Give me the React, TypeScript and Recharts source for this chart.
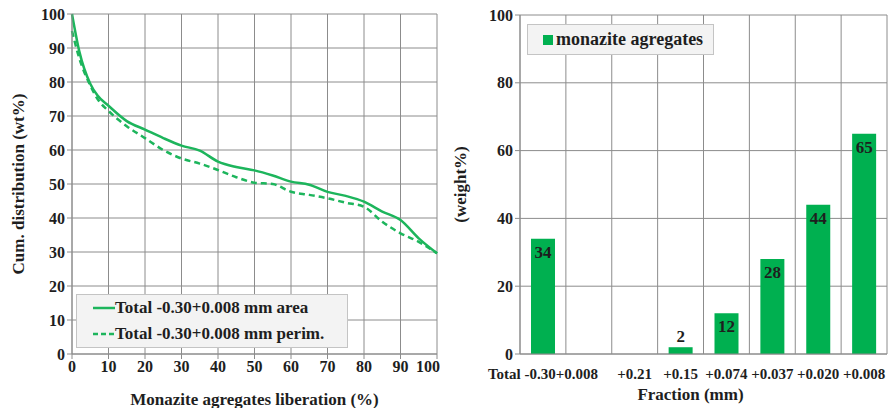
import React from "react"
import {
  LineChart,
  Line,
  BarChart,
  Bar,
  XAxis,
  YAxis,
  CartesianGrid,
  Legend,
  LabelList,
} from "recharts"

// left panel: cumulative distribution vs liberation
const liberation = [0, 2, 5, 7, 10, 15, 20, 25, 30, 35, 40, 45, 50, 55, 60, 65, 70, 75, 80, 85, 90, 95, 100]
const areaValues = [100, 89, 79.5, 76, 73, 68.5, 66, 63.5, 61.3, 59.8, 56.6, 55, 54, 52.5, 50.7, 49.8, 47.7, 46.5, 44.8, 41.9, 39.4, 34, 29.6]
const perimValues = [95, 87, 79, 75, 71.5, 67, 63.5, 60, 57.5, 56, 54.1, 52, 50.4, 50, 47.7, 46.8, 45.8, 44.5, 43.3, 38.9, 35.5, 33, 29.6]
const libTicks = [0, 10, 20, 30, 40, 50, 60, 70, 80, 90, 100]
const cumTicks = [0, 10, 20, 30, 40, 50, 60, 70, 80, 90, 100]

// right panel: monazite agregates by fraction
const fractions = ["Total -0.30+0.008", "", "+0.21", "+0.15", "+0.074", "+0.037", "+0.020", "+0.008"]
const weights: (number | null)[] = [34, null, null, 2, 12, 28, 44, 65]
const weightTicks = [0, 20, 40, 60, 80, 100]

const lineData = liberation.map((x, i) => ({ lib: x, area: areaValues[i], perim: perimValues[i] }))
const barData = fractions.map((f, i) => ({ fraction: f, weight: weights[i] }))

const GREEN = "#00B050"
const LINE_GREEN = "#1DB55C"
const INK = "#1e1e1e"
const GRID = "#8c8c8c"
const FONT = "'Liberation Serif', 'DejaVu Serif', serif"

const tickStyle = { fontFamily: FONT, fontWeight: 700, fontSize: 16, fill: INK }
const titleStyle = { ...tickStyle, fontSize: 17 }

function LeftLegend() {
  const row = (dash: string | undefined, text: string) => (
    <div style={{ display: "flex", alignItems: "center", height: 26 }}>
      <svg width={22} height={10}>
        <line x1={0} y1={5} x2={22} y2={5} stroke={LINE_GREEN} strokeWidth={2.5} strokeDasharray={dash} />
      </svg>
      <span>{text}</span>
    </div>
  )
  return (
    <div
      style={{
        background: "#f3f3f3",
        border: "1px solid #c4c4c4",
        padding: "0 10px 0 16px",
        fontFamily: FONT,
        fontWeight: 700,
        fontSize: 17,
        color: INK,
        width: 244,
      }}
    >
      {row(undefined, "Total -0.30+0.008 mm area")}
      {row("5 3", "Total -0.30+0.008 mm perim.")}
    </div>
  )
}

function RightLegend() {
  return (
    <div
      style={{
        background: "#f3f3f3",
        border: "1px solid #c4c4c4",
        padding: "4px 8px 4px 15px",
        fontFamily: FONT,
        fontWeight: 700,
        fontSize: 18,
        color: INK,
        display: "flex",
        alignItems: "center",
        width: 162,
      }}
    >
      <span style={{ display: "inline-block", width: 10, height: 10, background: GREEN, marginRight: 3 }} />
      <span>monazite agregates</span>
    </div>
  )
}

function BarValue(props: any) {
  const { x, y, width, value } = props
  if (value == null) return null
  const inside = value > 5
  return (
    <text
      x={x + width / 2}
      y={inside ? y + 19 : y - 5}
      textAnchor="middle"
      style={{ fontFamily: FONT, fontWeight: 700, fontSize: 17, fill: INK }}
    >
      {value}
    </text>
  )
}

export default function App() {
  return (
    <div style={{ position: "absolute", left: 0, top: 0, width: 888, height: 408, background: "#fff", display: "flex" }}>
      <LineChart width={440} height={408} data={lineData} margin={{ top: 14, right: 3, bottom: 0, left: 0 }}>
        <CartesianGrid stroke={GRID} strokeWidth={1} />
        <XAxis
          dataKey="lib"
          type="number"
          domain={[0, 100]}
          ticks={libTicks}
          height={54}
          tick={tickStyle}
          tickSize={5}
          tickMargin={2}
          stroke={GRID}
          label={{ value: "Monazite agregates liberation (%)", position: "insideBottom", offset: 3, style: titleStyle }}
        />
        <YAxis
          type="number"
          domain={[0, 100]}
          ticks={cumTicks}
          width={72}
          tick={tickStyle}
          tickSize={5}
          tickMargin={2}
          stroke={GRID}
          label={{ value: "Cum. distribution (wt%)", angle: -90, position: "insideLeft", offset: 18, style: { ...titleStyle, textAnchor: "middle" } }}
        />
        <Legend
          layout="horizontal"
          verticalAlign="middle"
          align="center"
          content={() => <LeftLegend />}
          wrapperStyle={{ position: "absolute", left: 76, top: 294, width: "auto", bottom: "auto" }}
        />
        <Line dataKey="area" name="Total -0.30+0.008 mm area" stroke={LINE_GREEN} strokeWidth={2.5} dot={false} type="monotone" isAnimationActive={false} />
        <Line dataKey="perim" name="Total -0.30+0.008 mm perim." stroke={LINE_GREEN} strokeWidth={2.5} strokeDasharray="6 4" dot={false} type="monotone" isAnimationActive={false} />
      </LineChart>
      <BarChart width={448} height={408} data={barData} margin={{ top: 15, right: 1, bottom: 0, left: 0 }}>
        <CartesianGrid
          stroke={GRID}
          strokeWidth={1}
          verticalCoordinatesGenerator={({ offset }: any) =>
            fractions.map((_, i) => offset.left + (i * offset.width) / fractions.length).concat(offset.left + offset.width)
          }
        />
        <XAxis
          dataKey="fraction"
          interval={0}
          height={54}
          tick={{ ...tickStyle, fontSize: 15 }}
          tickLine={false}
          tickMargin={8}
          stroke={GRID}
          label={{ value: "Fraction (mm)", position: "insideBottom", offset: 8, dx: -13, style: titleStyle }}
        />
        <YAxis
          type="number"
          domain={[0, 100]}
          ticks={weightTicks}
          width={80}
          tick={tickStyle}
          tickSize={5}
          tickMargin={2}
          stroke={GRID}
          label={{ value: "(weight%)", angle: -90, position: "insideLeft", offset: 20, style: { ...titleStyle, textAnchor: "middle" } }}
        />
        <Legend
          layout="horizontal"
          verticalAlign="middle"
          align="center"
          content={() => <RightLegend />}
          wrapperStyle={{ position: "absolute", left: 87, top: 24, width: "auto", bottom: "auto" }}
        />
        <Bar dataKey="weight" name="monazite agregates" fill={GREEN} barSize={24} isAnimationActive={false}>
          <LabelList dataKey="weight" content={BarValue} />
        </Bar>
      </BarChart>
    </div>
  )
}
